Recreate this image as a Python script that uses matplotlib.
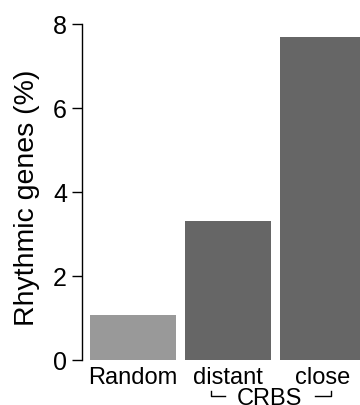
import matplotlib.pyplot as plt

plt.rcParams['font.family'] = ['Liberation Sans', 'DejaVu Sans']

categories = ["Random", "distant", "close"]
values = [1.07, 3.31, 7.69]
colors = ["#999999", "#666666", "#666666"]
group_label = "CRBS"

fig = plt.figure(figsize=(3.6, 4.05), dpi=100)
ax = fig.add_axes([81.5 / 360, 45 / 405, 1 - 81.5 / 360, 336 / 405])

x = list(range(len(categories)))
ax.bar(x, values, width=0.9, color=colors)
ax.set_xlim(-0.542, 2.39)
ax.set_ylim(0, 8)
ax.set_yticks([0, 2, 4, 6, 8])
ax.set_xticks(x)
ax.set_xticklabels(categories)
ax.tick_params(axis='x', length=0, pad=5, labelsize=17)
ax.tick_params(axis='y', length=7.5, width=1, pad=3, labelsize=18)
ax.set_ylabel("Rhythmic genes (%)", fontsize=20.5)
ax.yaxis.set_label_coords(-0.15, 0.484)

for s in ['top', 'right', 'bottom']:
    ax.spines[s].set_visible(False)
ax.spines['left'].set_linewidth(1)

# bracket under the two CRBS bars
trans = ax.get_xaxis_transform()
yb0, yb1 = -0.092, -0.107
ax.plot([0.82, 0.82, 0.97], [yb0, yb1, yb1], color='black', lw=1,
        transform=trans, clip_on=False)
ax.plot([1.916, 2.084, 2.084], [yb1, yb1, yb0], color='black', lw=1,
        transform=trans, clip_on=False)
ax.text(1.44, -0.133, group_label, transform=trans, ha='center',
        va='baseline', fontsize=17)

fig.savefig("out.png", dpi=100)
